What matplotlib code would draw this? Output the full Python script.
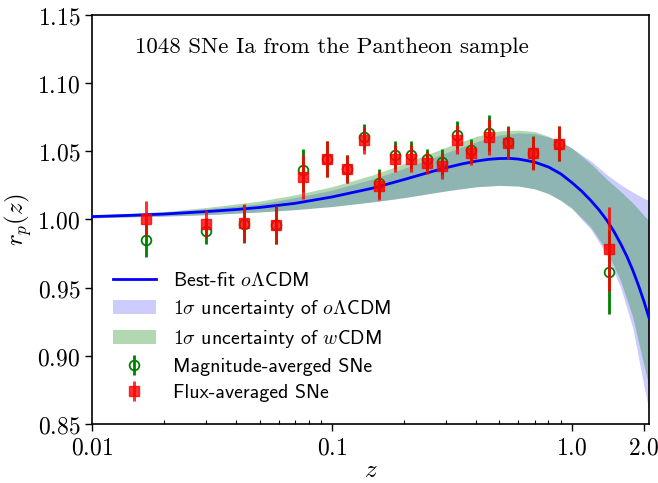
import numpy as np
import matplotlib
matplotlib.use("Agg")
import matplotlib.pyplot as plt
from matplotlib.ticker import FixedLocator, FixedFormatter, FormatStrFormatter, LogLocator, NullFormatter

plt.rcParams['mathtext.fontset'] = 'cm'
plt.rcParams['axes.unicode_minus'] = False

# ---- data: binned SNe ----
z_bins = [0.0168, 0.0299, 0.0431, 0.0584, 0.0755, 0.095, 0.1158, 0.136, 0.1575, 0.1835,
          0.2134, 0.2496, 0.2883, 0.3327, 0.382, 0.450, 0.545, 0.690, 0.883, 1.426]
r_flux = [1.0007, 0.9966, 0.9971, 0.9958, 1.0312, 1.0442, 1.0369, 1.0581, 1.0244, 1.0447,
          1.0447, 1.0415, 1.0393, 1.0586, 1.0484, 1.0605, 1.0561, 1.0484, 1.0557, 0.9782]
e_flux = [0.0129, 0.0105, 0.0139, 0.0139, 0.0159, 0.0131, 0.0101, 0.0098, 0.0104, 0.0101,
          0.0101, 0.0080, 0.0097, 0.0104, 0.0085, 0.0134, 0.0115, 0.0120, 0.0128, 0.0310]
r_mag = [0.9848, 0.9916, 0.9968, 0.9958, 1.0361, 1.0442, 1.0369, 1.0605, 1.0264, 1.0471,
         1.0471, 1.0440, 1.0422, 1.0618, 1.0508, 1.0635, 1.0569, 1.0490, 1.0557, 0.9616]
e_mag = [0.0122, 0.0098, 0.0137, 0.0139, 0.0159, 0.0131, 0.0101, 0.0098, 0.0104, 0.0101,
         0.0101, 0.0080, 0.0097, 0.0104, 0.0085, 0.0134, 0.0115, 0.0120, 0.0128, 0.0307]

# ---- best-fit curve (sampled) ----
z_curve = [0.01, 0.015, 0.02, 0.03, 0.04, 0.05, 0.07, 0.1, 0.15, 0.2, 0.25, 0.3, 0.35, 0.4, 0.45,
           0.5, 0.55, 0.6, 0.7, 0.8, 0.9, 1.0, 1.1, 1.2, 1.3, 1.4, 1.5, 1.6, 1.7, 1.8, 1.9, 2.0, 2.1]
r_curve = [1.0021, 1.0031, 1.0040, 1.0058, 1.0073, 1.0088, 1.0118, 1.0165, 1.0232, 1.0293, 1.0342,
           1.0380, 1.0408, 1.0428, 1.0441, 1.0447, 1.0448, 1.0443, 1.0421, 1.0385, 1.0335, 1.0272,
           1.0208, 1.0140, 1.0070, 0.9995, 0.9912, 0.9822, 0.9728, 0.9625, 0.9515, 0.9400, 0.9280]

# ---- 1-sigma bands ----
z_band = [0.01, 0.02, 0.03, 0.05, 0.07, 0.1, 0.15, 0.2, 0.3, 0.4, 0.5, 0.6, 0.7, 0.8, 0.9,
          1.0, 1.2, 1.4, 1.6, 1.8, 2.0, 2.1]
olcdm_lo = [1.0012, 1.0025, 1.0035, 1.0055, 1.0072, 1.0095, 1.0130, 1.0160, 1.0210, 1.0240, 1.0250,
            1.0245, 1.0225, 1.0190, 1.0140, 1.0080, 0.9930, 0.9740, 0.9500, 0.9200, 0.8780, 0.8600]
olcdm_hi = [1.0030, 1.0053, 1.0078, 1.0115, 1.0160, 1.0215, 1.0300, 1.0375, 1.0490, 1.0570, 1.0620,
            1.0635, 1.0630, 1.0605, 1.0570, 1.0525, 1.0430, 1.0330, 1.0255, 1.0200, 1.0155, 1.0140]
wcdm_lo = [1.0012, 1.0025, 1.0035, 1.0055, 1.0072, 1.0095, 1.0130, 1.0160, 1.0210, 1.0240, 1.0250,
           1.0245, 1.0225, 1.0190, 1.0140, 1.0085, 0.9945, 0.9770, 0.9550, 0.9280, 0.8930, 0.8780]
wcdm_hi = [1.0032, 1.0058, 1.0088, 1.0135, 1.0180, 1.0240, 1.0330, 1.0410, 1.0530, 1.0610, 1.0650,
           1.0655, 1.0645, 1.0610, 1.0570, 1.0525, 1.0410, 1.0295, 1.0205, 1.0120, 1.0030, 0.9990]

xtick_vals = [0.01, 0.1, 1.0, 2.0]
xtick_labels = ['$0.01$', '$0.1$', '$1.0$', '$2.0$']
ytick_vals = [0.85, 0.90, 0.95, 1.00, 1.05, 1.10, 1.15]

fig = plt.figure(figsize=(6.58, 4.83), dpi=100)
ax = fig.add_axes([0.1398, 0.1222, 0.8465, 0.8468])

ax.fill_between(z_band, olcdm_lo, olcdm_hi, color='blue', alpha=0.2, lw=0,
                label=r'$1\sigma$ uncertainty of $o\Lambda$CDM')
ax.fill_between(z_band, wcdm_lo, wcdm_hi, color='green', alpha=0.3, lw=0,
                label=r'$1\sigma$ uncertainty of $w$CDM')
ax.plot(z_curve, r_curve, color='blue', lw=2, label=r'Best-fit $o\Lambda$CDM', zorder=3)

ax.errorbar(z_bins, r_mag, yerr=e_mag, fmt='o', color='green', mfc='none', mec='green',
            ms=7, mew=1.3, elinewidth=2, capsize=0, label='Magnitude-averged SNe', zorder=4)
ax.errorbar(z_bins, r_flux, yerr=e_flux, fmt='s', color='red', ms=7.5, elinewidth=2.2,
            capsize=0, alpha=0.8, label='Flux-averaged SNe', zorder=5)

ax.set_xscale('log')
ax.set_xlim(0.01, 2.1)
ax.set_ylim(0.85, 1.15)
ax.xaxis.set_major_locator(FixedLocator(xtick_vals))
ax.xaxis.set_major_formatter(FixedFormatter(xtick_labels))
ax.xaxis.set_minor_locator(LogLocator(base=10, subs=np.arange(2, 10)))
ax.xaxis.set_minor_formatter(NullFormatter())
ax.yaxis.set_major_locator(FixedLocator(ytick_vals))
ax.yaxis.set_major_formatter(FormatStrFormatter('$%.2f$'))
ax.tick_params(axis='both', which='major', labelsize=17, direction='out', length=5, width=1)
ax.tick_params(axis='x', which='minor', direction='in', length=3, width=0.8)
for s in ax.spines.values():
    s.set_linewidth(1.2)

ax.set_xlabel('$z$', fontsize=18, labelpad=-1)
ax.set_ylabel('$r_p(z)$', fontsize=18, labelpad=2)

ax.text(0.077, 0.92, '1048 SNe Ia from the Pantheon sample', transform=ax.transAxes,
        fontsize=16.5, family='cmr10', ha='left', va='center')

h, l = ax.get_legend_handles_labels()
order = [l.index(r'Best-fit $o\Lambda$CDM'), l.index(r'$1\sigma$ uncertainty of $o\Lambda$CDM'),
         l.index(r'$1\sigma$ uncertainty of $w$CDM'), l.index('Magnitude-averged SNe'),
         l.index('Flux-averaged SNe')]
leg = ax.legend([h[i] for i in order], [l[i] for i in order], loc='lower left',
                bbox_to_anchor=(0.005, 0.01), frameon=False,
                prop={'family': 'cmss10', 'size': 14.3}, handlelength=2.2, handletextpad=0.85,
                labelspacing=0.4)

fig.savefig('out.png', dpi=100)
